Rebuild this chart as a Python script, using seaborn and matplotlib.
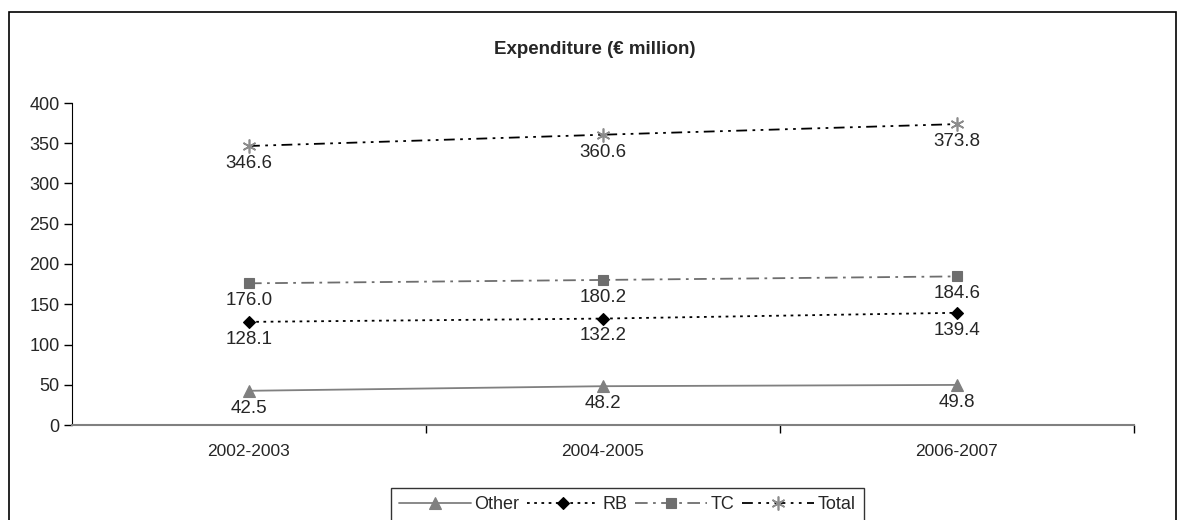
import pandas as pd
import seaborn as sns
import matplotlib.pyplot as plt
from matplotlib.patches import Rectangle

# values
periods = ['2002-2003', '2004-2005', '2006-2007']
other = [42.5, 48.2, 49.8]
rb = [128.1, 132.2, 139.4]
tc = [176.0, 180.2, 184.6]
total = [346.6, 360.6, 373.8]

series = {'Other': other, 'RB': rb, 'TC': tc, 'Total': total}
styles = {
    'Other': dict(color='#808080', marker='^', mfc='#808080', mec='#808080', ms=9, dashes=''),
    'RB': dict(color='black', marker='D', mfc='black', mec='black', ms=6.5, dashes=(1.5, 2.5)),
    'TC': dict(color='#6e6e6e', marker='s', mfc='#6e6e6e', mec='#6e6e6e', ms=7.5, dashes=(7, 3, 1.5, 3)),
    'Total': dict(color='black', marker=(6, 2, 0), mfc='none', mec='#8c8c8c', ms=10, dashes=(6, 3, 1.5, 3, 1.5, 3)),
}

sns.set_style('white')
plt.rcParams['font.family'] = ['Liberation Sans', 'DejaVu Sans']

fig = plt.figure(figsize=(11.78, 5.2), dpi=100)
ax = fig.add_axes([72 / 1178, 1 - 425 / 520, (1134 - 72) / 1178, (425 - 103) / 520])

df = pd.DataFrame(series)
df['x'] = range(len(periods))

for name, vals in series.items():
    st = styles[name]
    line = sns.lineplot(data=df, x='x', y=name, ax=ax, color=st['color'], lw=1.3,
                        marker=st['marker'], markersize=st['ms'],
                        markerfacecolor=st['mfc'], markeredgecolor=st['mec'],
                        markeredgewidth=1.2 if name == 'Total' else 0.8,
                        label=name, legend=False).lines[-1]
    if st['dashes']:
        line.set_dashes(st['dashes'])
    for i, v in enumerate(vals):
        ax.annotate(f'{v:.1f}', (i, v), xytext=(0, -12.5), textcoords='offset points',
                    ha='center', va='center', fontsize=13.5)

ax.set_xlim(-0.5, 2.5)
ax.set_ylim(0, 400)
ax.set_yticks(range(0, 401, 50))
ax.set_xticks([0.5, 1.5, 2.5])
ax.set_xticklabels([])
ax.set_xticks(range(len(periods)), minor=True)
ax.set_xticklabels(periods, minor=True, fontsize=12.5)
ax.tick_params(axis='x', which='minor', bottom=False, length=0, pad=14)
ax.tick_params(axis='x', which='major', bottom=True, length=6, width=1, color='black', direction='out')
ax.tick_params(axis='y', left=True, length=6, width=1, color='black', direction='out', labelsize=13, pad=3)
ax.set_xlabel('')
ax.set_ylabel('')
for s in ['top', 'right']:
    ax.spines[s].set_visible(False)
ax.spines['left'].set_color('black')
ax.spines['bottom'].set_color('#808080')
ax.spines['bottom'].set_linewidth(1.5)

fig.text(595 / 1178, 1 - 50 / 520, 'Expenditure (€ million)', ha='center', va='center',
         fontsize=13.5, fontweight='bold')

leg = fig.legend(*ax.get_legend_handles_labels(), loc='upper center', ncol=4,
                 bbox_to_anchor=(627 / 1178, 1 - 488 / 520), frameon=True, fancybox=False,
                 fontsize=13, handlelength=4.0, handletextpad=0.2, columnspacing=0.4,
                 borderpad=0.45, borderaxespad=0)
leg.get_frame().set_edgecolor('black')
leg.get_frame().set_linewidth(1)

fig.patches.append(Rectangle((9 / 1178, -0.05), (1176 - 9) / 1178, 1.05 - 12 / 520,
                             transform=fig.transFigure, fill=False, edgecolor='black', lw=1.2))

fig.savefig('out.png', dpi=100)
